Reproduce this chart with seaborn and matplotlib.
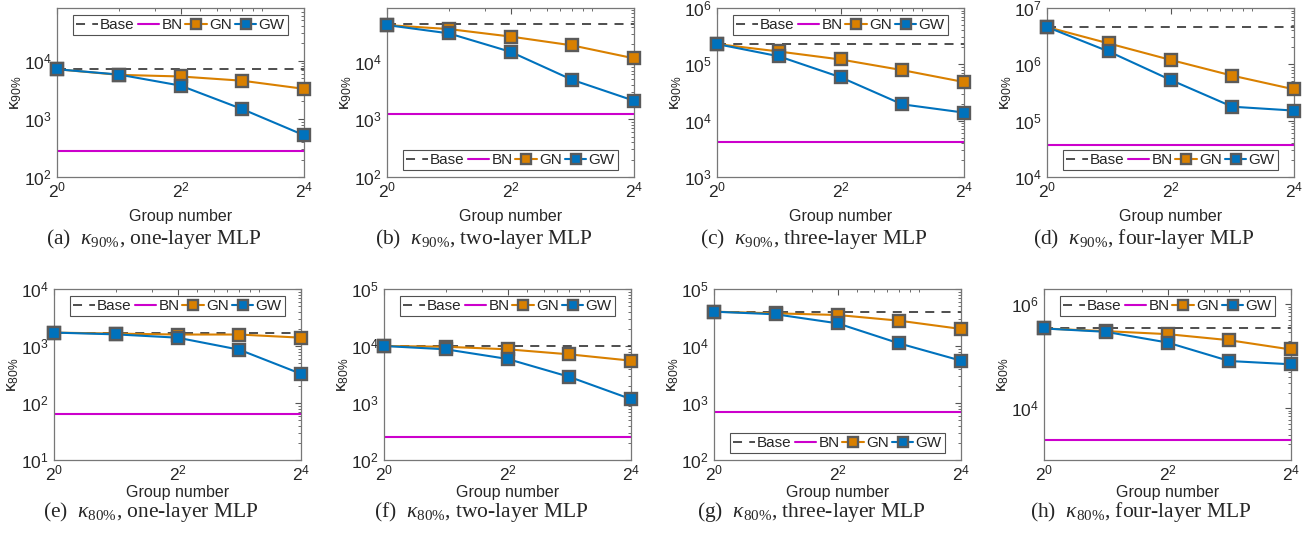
import numpy as np
import matplotlib
matplotlib.use("Agg")
import matplotlib.pyplot as plt
import matplotlib.ticker as mticker
import seaborn as sns

sns.set_style("white")
plt.rcParams['font.family'] = ['Liberation Sans', 'DejaVu Sans']
plt.rcParams['mathtext.fontset'] = 'custom'
plt.rcParams['mathtext.rm'] = 'Liberation Serif'
plt.rcParams['mathtext.it'] = 'Liberation Serif:italic'
plt.rcParams['mathtext.sf'] = 'Liberation Sans'

# group numbers (x axis)
groups = [1, 2, 4, 8, 16]

# kappa 90% (top row), one- to four-layer MLP
base_90 = [7150, 44700, 229000, 4.54e6]
bn_90 = [282, 1215, 4150, 3.77e4]
gn_90 = [
    [7150, 5730, 5370, 4540, 3290],
    [43000, 36700, 27200, 19100, 11400],
    [229000, 169000, 122000, 78900, 48500],
    [4.6e6, 2.35e6, 1.2e6, 6.3e5, 3.6e5],
]
gw_90 = [
    [7150, 5800, 3740, 1475, 524],
    [43000, 30900, 14800, 4830, 2100],
    [229000, 139000, 59100, 19500, 13900],
    [4.6e6, 1.69e6, 5.3e5, 1.77e5, 1.51e5],
]

# kappa 80% (bottom row)
base_80 = [1720, 10000, 40000, 3.43e5]
bn_80 = [64, 251, 685, 2480]
gn_80 = [
    [1720, 1650, 1590, 1590, 1400],
    [10000, 9700, 8750, 7140, 5530],
    [40000, 37400, 35000, 27800, 19900],
    [3.43e5, 3.05e5, 2.67e5, 2.04e5, 1.35e5],
]
gw_80 = [
    [1720, 1600, 1400, 862, 325],
    [10000, 8750, 5930, 2880, 1170],
    [40000, 36000, 25000, 11100, 5530],
    [3.43e5, 2.96e5, 1.84e5, 8.1e4, 7.0e4],
]

ylims_90 = [(1e2, 8.1e4), (1e2, 8.5e4), (1e3, 1e6), (1e4, 1e7)]
ylims_80 = [(1e1, 1e4), (1e2, 1e5), (1e2, 1e5), (1e3, 1.98e6)]
legend_loc_90 = ['upper center', 'lower center', 'upper center', 'lower center']
legend_loc_80 = ['upper center', 'upper center', 'lower center', 'upper center']
letters = list("abcdefgh")
layers = ['one-layer', 'two-layer', 'three-layer', 'four-layer']

c_base = '#404040'
c_bn = '#CC00CC'
c_gn = '#D98000'
c_gw = '#0072BD'
c_edge = '#5a5a5a'

fig = plt.figure(figsize=(13.12, 5.35), dpi=100)
W, H = 1312, 535


def draw(ax, base, bn, gn, gw, ylim, loc, pct, xlab_off):
    sns.lineplot(x=groups, y=[base] * len(groups), ax=ax, color=c_base,
                 linestyle=(0, (5, 4)), lw=1.3, label='Base')
    sns.lineplot(x=groups, y=[bn] * len(groups), ax=ax, color=c_bn, lw=1.5, label='BN')
    sns.lineplot(x=groups, y=gn, ax=ax, color=c_gn, lw=1.5, marker='s', markersize=8.5,
                 markeredgecolor=c_edge, markeredgewidth=1.7, label='GN', clip_on=False, zorder=5)
    sns.lineplot(x=groups, y=gw, ax=ax, color=c_gw, lw=1.5, marker='s', markersize=8.5,
                 markeredgecolor=c_edge, markeredgewidth=1.7, label='GW', clip_on=False, zorder=6)
    ax.set_xscale('log')
    ax.set_yscale('log')
    ax.set_xlim(1, 16)
    ax.set_ylim(*ylim)
    ax.xaxis.set_major_locator(mticker.FixedLocator([1, 4, 16]))
    ax.xaxis.set_major_formatter(mticker.FixedFormatter([r'$\mathsf{2^{0}}$', r'$\mathsf{2^{2}}$', r'$\mathsf{2^{4}}$']))
    ax.xaxis.set_minor_locator(mticker.FixedLocator([2, 3, 5, 6, 7, 8, 9, 10]))
    ax.xaxis.set_minor_formatter(mticker.NullFormatter())
    lo, hi = int(np.floor(np.log10(ylim[0]) + 1e-9)), int(np.ceil(np.log10(ylim[1]) - 1e-9))
    if ylim == (1e3, 1.98e6):
        majors = [1e4, 1e6]
    else:
        majors = [10.0 ** k for k in range(lo, hi + 1)]
    ax.yaxis.set_major_locator(mticker.FixedLocator(majors))
    ax.yaxis.set_major_formatter(mticker.FixedFormatter(
        [r'$\mathsf{10^{%d}}$' % int(round(np.log10(m))) for m in majors]))
    ax.yaxis.set_minor_locator(mticker.LogLocator(base=10, subs=np.arange(2, 10), numticks=20))
    ax.yaxis.set_minor_formatter(mticker.NullFormatter())
    ax.tick_params(which='both', direction='in', top=True, right=True, labelcolor='#262626',
                   labelsize=12.5, pad=4)
    ax.tick_params(axis='x', pad=2.5)
    ax.tick_params(which='major', length=4, width=0.8, color='#555555')
    ax.tick_params(which='minor', length=2, width=0.6, color='#555555')
    for s in ax.spines.values():
        s.set_color('#777777')
        s.set_linewidth(0.9)
    ax.set_xlabel('Group number', fontsize=11.5, color='#262626')
    ax.xaxis.set_label_coords(0.5, xlab_off)
    ax.xaxis.label.set_va('center')
    ax.set_ylabel(r'$\mathsf{\kappa_{%s\%%}}$' % pct, fontsize=12.5, color='#262626', labelpad=0)
    leg = ax.legend(loc=loc, ncol=4, fontsize=11, handlelength=1.4, handletextpad=0.15,
                    columnspacing=0.2, borderpad=0.2, borderaxespad=0.45, frameon=True,
                    fancybox=False, edgecolor='#262626', markerscale=0.85)
    leg.get_frame().set_linewidth(0.8)


rows = [
    (base_90, bn_90, gn_90, gw_90, ylims_90, legend_loc_90, '90', 8, 177, [57, 387, 717, 1047], 217, 239),
    (base_80, bn_80, gn_80, gw_80, ylims_80, legend_loc_80, '80', 289, 460, [54, 384, 714, 1044], 492, 512),
]
k = 0
for base, bn, gn, gw, ylims, locs, pct, top, bot, lefts, xlab_y, cap_y in rows:
    for i in range(4):
        ax = fig.add_axes([lefts[i] / W, 1 - bot / H, 247 / W, (bot - top) / H])
        draw(ax, base[i], bn[i], gn[i], gw[i], ylims[i], locs[i], pct,
             -(xlab_y - bot) / (bot - top))
        cx = lefts[i] + 97
        fig.text(cx / W, 1 - cap_y / H,
                 r'(%s)  $\kappa_{%s\%%}$, %s MLP' % (letters[k], pct, layers[i]),
                 ha='center', va='center', fontsize=15.5, family='Liberation Serif')
        k += 1

fig.savefig('out.png', dpi=100)
